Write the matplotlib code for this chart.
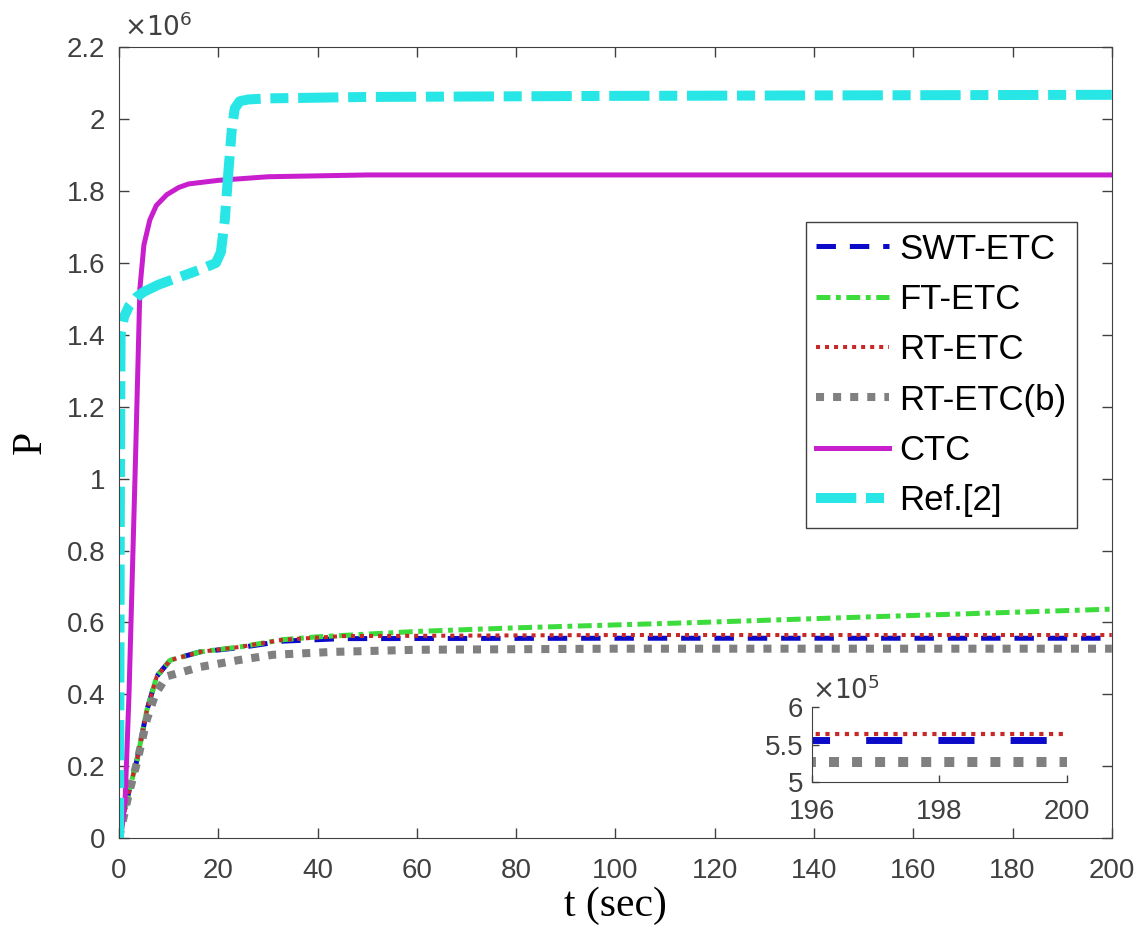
import matplotlib
matplotlib.use('Agg')
import matplotlib.pyplot as plt
from matplotlib.ticker import FuncFormatter

plt.rcParams['font.family'] = ['Liberation Sans', 'DejaVu Sans']
plt.rcParams['lines.scale_dashes'] = False

# Ref.[2]
t_ref = [0, 0.15, 0.3, 1, 2, 3.5, 5, 8, 12, 16, 19.5, 20.5, 21.3, 22, 22.7, 23.3, 24.3, 26, 30, 50, 100, 200]
p_ref = [0, 0.9e6, 1.4e6, 1.45e6, 1.48e6, 1.505e6, 1.52e6, 1.54e6, 1.56e6, 1.58e6, 1.6e6, 1.63e6, 1.72e6, 1.85e6, 1.97e6, 2.03e6, 2.05e6, 2.055e6, 2.058e6, 2.062e6, 2.065e6, 2.068e6]

# CTC
t_ctc = [0, 0.5, 1.2, 2, 2.8, 3.3, 4.2, 5, 6.2, 7.5, 9.6, 12, 14, 20, 30, 50, 100, 200]
p_ctc = [0, 0.02e6, 0.1e6, 0.4e6, 0.8e6, 1.05e6, 1.53e6, 1.65e6, 1.72e6, 1.76e6, 1.79e6, 1.81e6, 1.82e6, 1.83e6, 1.84e6, 1.845e6, 1.845e6, 1.845e6]

# SWT-ETC
t_swt = [0, 1.9, 3.6, 5.6, 7.6, 10.3, 16.3, 24.4, 33, 45, 100, 200]
p_swt = [0, 0.125e6, 0.217e6, 0.356e6, 0.45e6, 0.495e6, 0.518e6, 0.53e6, 0.548e6, 0.555e6, 0.556e6, 0.556e6]

# FT-ETC
t_ft = [0, 1.9, 3.6, 5.6, 7.6, 10.3, 16.3, 24.4, 33, 40, 60, 80, 117, 150, 200]
p_ft = [0, 0.125e6, 0.217e6, 0.356e6, 0.45e6, 0.495e6, 0.518e6, 0.532e6, 0.552e6, 0.56e6, 0.575e6, 0.585e6, 0.6e6, 0.615e6, 0.637e6]

# RT-ETC
t_rt = [0, 1.9, 3.6, 5.6, 7.6, 10.3, 16.3, 24.4, 33, 45, 100, 200]
p_rt = [0, 0.125e6, 0.217e6, 0.356e6, 0.45e6, 0.495e6, 0.518e6, 0.532e6, 0.552e6, 0.562e6, 0.565e6, 0.565e6]

# RT-ETC(b)
t_rtb = [0, 1.9, 3.6, 5.6, 7.3, 9.6, 16.3, 24, 31, 43, 60, 100, 200]
p_rtb = [0, 0.12e6, 0.21e6, 0.33e6, 0.4e6, 0.45e6, 0.476e6, 0.495e6, 0.51e6, 0.518e6, 0.524e6, 0.527e6, 0.527e6]

labels = ['SWT-ETC', 'FT-ETC', 'RT-ETC', 'RT-ETC(b)', 'CTC', 'Ref.[2]']
c = ['#0A0AC8', '#3CDC3C', '#C82828', '#808080', '#C81ECD', '#28E6E6']
gray = '#404040'

fig = plt.figure(figsize=(11.45, 9.47), dpi=100)
ax = fig.add_axes([0.104, 0.115, 0.867, 0.835])

ax.plot(t_swt, p_swt, color=c[0], lw=3.6, dashes=(14, 10), label=labels[0])
ax.plot(t_ft, p_ft, color=c[1], lw=3.6, dashes=(10, 4, 3.5, 4), label=labels[1])
ax.plot(t_rt, p_rt, color=c[2], lw=2.9, dashes=(2.9, 3.6), label=labels[2])
ax.plot(t_rtb, p_rtb, color=c[3], lw=5.8, dashes=(5.8, 6.5), label=labels[3])
ax.plot(t_ctc, p_ctc, color=c[4], lw=3.6, label=labels[4])
ax.plot(t_ref, p_ref, color=c[5], lw=7.2, dashes=(29, 7, 13, 7), label=labels[5])

ax.set_xlim(0, 200)
ax.set_ylim(0, 2.2e6)
ax.set_xticks(range(0, 201, 20))
ax.set_yticks([i * 0.2e6 for i in range(12)])
ax.yaxis.set_major_formatter(FuncFormatter(lambda v, _: '%g' % round(v / 1e6, 1)))
ax.tick_params(direction='in', top=True, right=True, labelsize=20, colors=gray,
               length=7, width=1)
ax.tick_params(axis='x', pad=14)
ax.tick_params(axis='y', pad=10)
for s in ax.spines.values():
    s.set_color(gray)
ax.text(0.005, 1.008, r'$\times10^{6}$', transform=ax.transAxes, fontsize=19,
        color=gray, va='bottom', ha='left')

ax.set_xlabel('t (sec)', fontsize=30, family='Liberation Serif', labelpad=2)
ax.set_ylabel('P', fontsize=30, family='Liberation Serif', labelpad=12)

leg = ax.legend(loc='upper right', bbox_to_anchor=(0.965, 0.779), fontsize=25,
                handlelength=2.1, handletextpad=0.3, labelspacing=0.5,
                borderpad=0.3, borderaxespad=0, fancybox=False, framealpha=1)
leg.get_frame().set_edgecolor(gray)
leg.get_frame().set_linewidth(1)

# inset
ins = fig.add_axes([0.709, 0.174, 0.223, 0.079])
ins.plot(t_swt, p_swt, color=c[0], lw=5, dashes=(26, 26))
ins.plot(t_rt, p_rt, color=c[2], lw=3, dashes=(3, 4))
ins.plot(t_rtb, p_rtb, color=c[3], lw=7.2, dashes=(7.2, 9.4))
ins.set_xlim(196, 200)
ins.set_ylim(5e5, 6e5)
ins.set_xticks([196, 198, 200])
ins.set_yticks([5e5, 5.5e5, 6e5])
ins.yaxis.set_major_formatter(FuncFormatter(lambda v, _: '%g' % round(v / 1e5, 1)))
ins.spines['top'].set_visible(False)
ins.spines['right'].set_visible(False)
for s in ins.spines.values():
    s.set_color(gray)
ins.tick_params(direction='in', labelsize=20, colors=gray, length=5, width=1)
ins.tick_params(axis='x', pad=12)
ins.tick_params(axis='y', pad=6)
ins.text(0.0, 1.05, r'$\times10^{5}$', transform=ins.transAxes, fontsize=19,
         color=gray, va='bottom', ha='left')

plt.savefig('out.png', dpi=100)
